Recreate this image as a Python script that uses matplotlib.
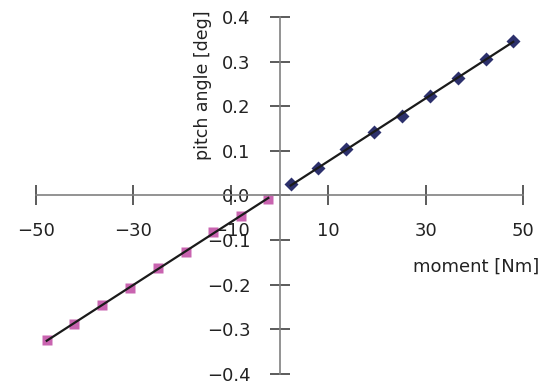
import numpy as np
import matplotlib.pyplot as plt

plt.rcParams['font.family'] = ['DejaVu Sans']

# positive moment (diamonds)
pos_moment = [2.3, 8.0, 13.7, 19.4, 25.2, 30.9, 36.6, 42.3, 48.0]
pos_pitch = [0.025, 0.062, 0.105, 0.142, 0.179, 0.222, 0.263, 0.306, 0.347]

# negative moment (squares)
neg_moment = [-47.8, -42.1, -36.4, -30.7, -25.0, -19.3, -13.6, -8.0, -2.3]
neg_pitch = [-0.324, -0.288, -0.245, -0.207, -0.163, -0.126, -0.082, -0.045, -0.008]

xticks = [-50, -30, -10, 10, 30, 50]
yticks = [-0.4, -0.3, -0.2, -0.1, 0.0, 0.1, 0.2, 0.3, 0.4]

fig = plt.figure(figsize=(5.48, 3.87), dpi=100)
ax = fig.add_axes([0.0657, 0.0336, 0.8887, 0.9225])

# trend lines for each series
for xs, ys in [(neg_moment, neg_pitch), (pos_moment, pos_pitch)]:
    k, b = np.polyfit(xs, ys, 1)
    xl = np.array([min(xs), max(xs)])
    ax.plot(xl, k * xl + b, color='#1a1a1a', lw=1.6, zorder=3)

ax.plot(neg_moment, neg_pitch, 's', color='#c964b0', ms=7.5, mec='none', zorder=2)
ax.plot(pos_moment, pos_pitch, 'D', color='#2c306c', ms=6.8, mec='none', zorder=2)

ax.set_xlim(-50, 50)
ax.set_ylim(-0.4, 0.4)
ax.spines['left'].set_position('zero')
ax.spines['bottom'].set_position('zero')
ax.spines['top'].set_visible(False)
ax.spines['right'].set_visible(False)
for s in ['left', 'bottom']:
    ax.spines[s].set_color('#808080')
    ax.spines[s].set_linewidth(1.2)

ax.set_xticks(xticks)
ax.set_xticklabels(['\u2212' + str(-t) if t < 0 else str(t) for t in xticks])
ax.set_yticks(yticks)
ax.set_yticklabels([('\u2212%.1f' % -t) if t < 0 else '%.1f' % t for t in yticks])
ax.tick_params(axis='both', direction='inout', length=14, width=1.2,
               color='#404040', labelsize=13, labelcolor='#222222')
ax.tick_params(axis='x', pad=12)
ax.tick_params(axis='y', pad=14)

ax.set_xlabel('moment [Nm]', fontsize=13, ha='right', va='center', color='#222222')
ax.xaxis.set_label_coords(1.034, 0.30)
ax.set_ylabel('pitch angle [deg]', fontsize=12.5, ha='center', va='center', color='#222222')
ax.yaxis.set_label_coords(0.343, 0.81)

fig.savefig('out.png', dpi=100)
